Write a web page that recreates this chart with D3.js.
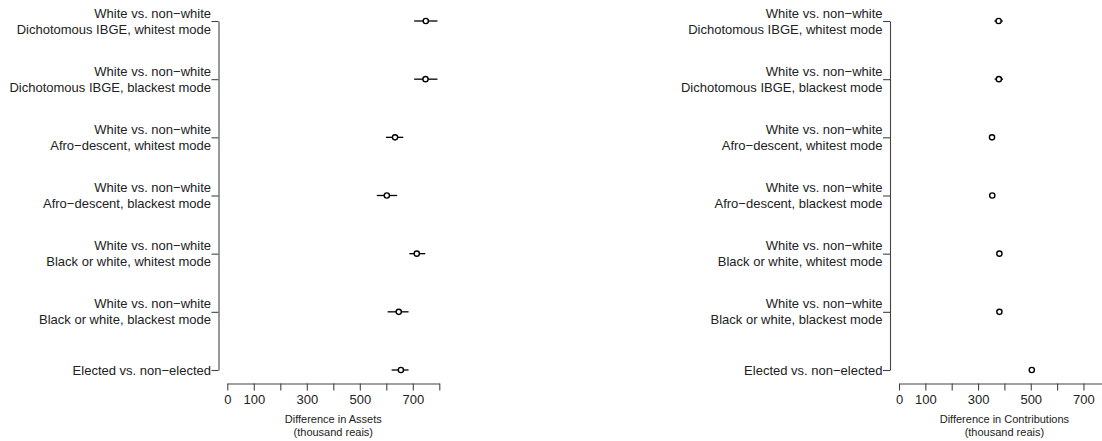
<!DOCTYPE html>
<html><head><meta charset="utf-8">
<script src="https://cdn.jsdelivr.net/npm/d3@7"></script>
<style>
body{margin:0;background:#fff;}
svg{display:block;font-family:"Liberation Sans",Arial,Helvetica,sans-serif;}
</style></head>
<body><svg id="c" width="1102" height="441"></svg>
<script>
const categories = [
  ["White vs. non\u2212white","Dichotomous IBGE, whitest mode"],
  ["White vs. non\u2212white","Dichotomous IBGE, blackest mode"],
  ["White vs. non\u2212white","Afro\u2212descent, whitest mode"],
  ["White vs. non\u2212white","Afro\u2212descent, blackest mode"],
  ["White vs. non\u2212white","Black or white, whitest mode"],
  ["White vs. non\u2212white","Black or white, blackest mode"],
  ["Elected vs. non\u2212elected"]
];
const assetsEst = [749, 748, 633, 602, 715, 647, 655];
const assetsLo  = [705, 705, 599, 564, 687, 605, 620];
const assetsHi  = [793, 793, 664, 641, 747, 684, 684];
const contribEst = [378, 379, 353, 354, 381, 381, 504];
const contribLo  = [362, 363, 347, 348, 376, 376, 499];
const contribHi  = [394, 395, 359, 360, 386, 386, 509];
const xTicks = [0,100,200,300,400,500,600,700,800];
const xTickLabels = ["0","100","","300","","500","","700",""];
const titlesAssets = ["Difference in Assets","(thousand reais)"];
const titlesContrib = ["Difference in Contributions","(thousand reais)"];

const svg = d3.select("#c");
const ids = categories.map((d,i)=>i);
const y = d3.scalePoint().domain(ids).range([21,370]);

function panel(axisX, xRange, est, lo, hi, titles){
  const x = d3.scaleLinear().domain([0,800]).range(xRange);
  const g = svg.append("g");
  // y axis
  const ya = g.append("g").attr("transform",`translate(${axisX},0)`)
    .call(d3.axisLeft(y).tickSize(7).tickSizeOuter(0).tickFormat(""));
  ya.selectAll("path,line").attr("stroke","#444").attr("stroke-width",1.1);
  // labels
  categories.forEach((lines,i)=>{
    const t = g.append("text").attr("text-anchor","end")
      .attr("font-size",13).attr("fill","#222");
    const n = lines.length;
    lines.forEach((s,k)=>{
      t.append("tspan").attr("x",axisX-7.5)
        .attr("y", y(i) + (k-(n-1)/2)*16 + 4.5).text(s);
    });
  });
  // x axis
  const xa = g.append("g").attr("transform","translate(0,383.5)")
    .call(d3.axisBottom(x).tickValues(xTicks).tickSize(7).tickSizeOuter(0)
      .tickFormat((d,i)=>xTickLabels[i]).tickPadding(4));
  xa.selectAll("path,line").attr("stroke","#444").attr("stroke-width",1.1);
  xa.selectAll("text").attr("font-size",13).attr("fill","#222")
    .attr("font-family","'Liberation Sans',Arial,sans-serif");
  titles.forEach((s,k)=>{
    g.append("text").attr("x",(xRange[0]+xRange[1])/2).attr("y",422.5+k*13.5)
      .attr("text-anchor","middle").attr("font-size",11).attr("fill","#222").text(s);
  });
  // error bars
  g.selectAll("line.ci").data(ids).join("line").attr("class","ci")
    .attr("x1",i=>x(lo[i])).attr("x2",i=>x(hi[i]))
    .attr("y1",i=>y(i)).attr("y2",i=>y(i))
    .attr("stroke","#000").attr("stroke-width",1.3);
  g.selectAll("circle.pt").data(ids).join("circle").attr("class","pt")
    .attr("cx",i=>x(est[i])).attr("cy",i=>y(i)).attr("r",2.6)
    .attr("fill","#fff").attr("stroke","#000").attr("stroke-width",1.4);
}

panel(218.5, [227.3,439.3], assetsEst, assetsLo, assetsHi, titlesAssets);
panel(890, [899,1109.8], contribEst, contribLo, contribHi, titlesContrib);
</script></body></html>
